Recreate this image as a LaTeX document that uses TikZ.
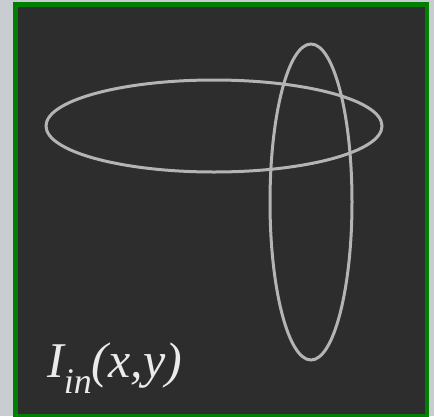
\documentclass[tikz,border=0pt]{standalone}
\usepackage{fontspec}
\setmainfont{Liberation Serif}
\definecolor{bgout}{HTML}{C9CDD2}
\definecolor{panel}{HTML}{2D2D2D}
\definecolor{frame}{HTML}{008000}
\definecolor{ring}{HTML}{B4B4B4}
\begin{document}
\begin{tikzpicture}[x=1pt,y=-1pt,
  ringline/.style={draw=ring,line width=3pt},
  lbl/.style={text=white!92!black,font=\fontsize{50}{52}\selectfont\itshape,inner sep=0pt,anchor=base west}]
\fill[bgout] (0,0) rectangle (434,416);
\useasboundingbox (0,0) rectangle (434,416);
\fill[frame] (13,2) rectangle (429,418);
\fill[panel] (18,7) rectangle (425,414);
\draw[ringline] (214,126) ellipse [x radius=168, y radius=46];
\draw[ringline] (311,202) ellipse [x radius=41, y radius=158];
\node[lbl] (t) at (47,377) {I\raisebox{-0.32em}{\fontsize{36}{38}\selectfont in}(x,y)};
\end{tikzpicture}
\end{document}
